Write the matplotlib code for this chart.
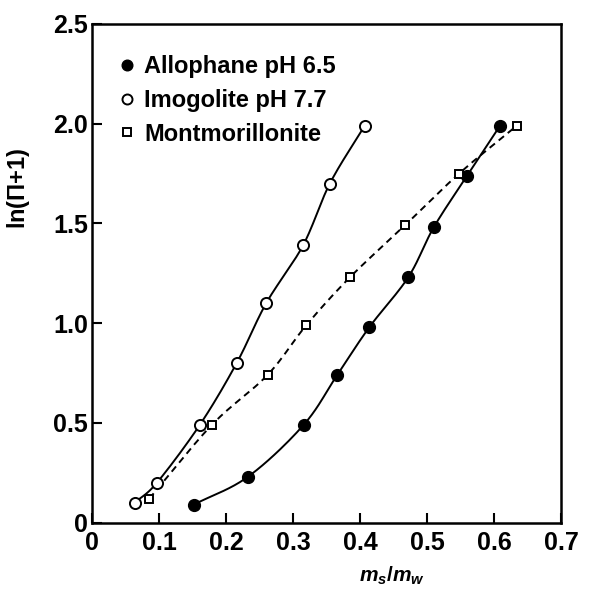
import numpy as np
import matplotlib
matplotlib.use("Agg")
import matplotlib.pyplot as plt

plt.rcParams['font.family'] = ['Liberation Sans', 'DejaVu Sans']
plt.rcParams['font.weight'] = 'bold'
plt.rcParams['mathtext.fontset'] = 'custom'
plt.rcParams['mathtext.it'] = 'Liberation Sans:italic:bold'
plt.rcParams['mathtext.rm'] = 'Liberation Sans:bold'
plt.rcParams['mathtext.bf'] = 'Liberation Sans:bold'

# ---- data ----
allophane_x = [0.152, 0.233, 0.316, 0.366, 0.414, 0.472, 0.510, 0.560, 0.609]
allophane_y = [0.09, 0.23, 0.49, 0.74, 0.98, 1.23, 1.48, 1.74, 1.99]

imogolite_x = [0.064, 0.097, 0.161, 0.216, 0.260, 0.315, 0.355, 0.407]
imogolite_y = [0.10, 0.20, 0.49, 0.80, 1.10, 1.39, 1.70, 1.99]

montmor_x = [0.0855, 0.179, 0.262, 0.320, 0.385, 0.467, 0.548, 0.634]
montmor_y = [0.12, 0.49, 0.74, 0.99, 1.23, 1.49, 1.75, 1.99]

labels = ['Allophane pH 6.5', 'Imogolite pH 7.7', 'Montmorillonite']
xticks = [0, 0.1, 0.2, 0.3, 0.4, 0.5, 0.6, 0.7]
xticklabels = ['0', '0.1', '0.2', '0.3', '0.4', '0.5', '0.6', '0.7']
yticks = [0, 0.5, 1.0, 1.5, 2.0, 2.5]
yticklabels = ['0', '0.5', '1.0', '1.5', '2.0', '2.5']


def smooth(x, y, n=20):
    """Catmull-Rom curve through the given points."""
    p = np.column_stack([x, y]).astype(float)
    p = np.vstack([2 * p[0] - p[1], p, 2 * p[-1] - p[-2]])
    out = []
    t = np.linspace(0, 1, n, endpoint=False)[:, None]
    for i in range(1, len(p) - 2):
        p0, p1, p2, p3 = p[i - 1], p[i], p[i + 1], p[i + 2]
        seg = 0.5 * ((2 * p1) + (-p0 + p2) * t + (2 * p0 - 5 * p1 + 4 * p2 - p3) * t ** 2
                     + (-p0 + 3 * p1 - 3 * p2 + p3) * t ** 3)
        out.append(seg)
    out.append(p[-2][None, :])
    out = np.vstack(out)
    return out[:, 0], out[:, 1]


fig = plt.figure(figsize=(5.89, 5.91), dpi=100)
ax = fig.add_axes([0.1562, 0.1159, 0.7963, 0.8435])

lw = 1.4
sx, sy = smooth(allophane_x, allophane_y)
ax.plot(sx, sy, color='black', lw=lw, zorder=2)
sx, sy = smooth(imogolite_x, imogolite_y)
ax.plot(sx, sy, color='black', lw=lw, zorder=2)
sx, sy = smooth(montmor_x, montmor_y)
ax.plot(sx, sy, color='black', lw=lw, dashes=(3.5, 2.5), zorder=2)

ax.plot(allophane_x, allophane_y, 'o', ms=8.5, mfc='black', mec='black', label=labels[0], zorder=3)
ax.plot(imogolite_x, imogolite_y, 'o', ms=8, mfc='white', mec='black', mew=1.4, label=labels[1], zorder=3)
ax.plot(montmor_x, montmor_y, 's', ms=6, mfc='white', mec='black', mew=1.4, label=labels[2], zorder=3)

ax.set_xlim(0, 0.7)
ax.set_ylim(0, 2.5)
ax.set_xticks(xticks)
ax.set_xticklabels(xticklabels)
ax.set_yticks(yticks)
ax.set_yticklabels(yticklabels)
ax.tick_params(direction='in', length=7, width=1.5, labelsize=18)
ax.tick_params(axis='x', pad=6)
ax.tick_params(axis='y', pad=3)
for s in ax.spines.values():
    s.set_linewidth(1.8)

ax.set_xlabel(r'$m_s/m_w$', fontsize=15)
ax.xaxis.set_label_coords(0.64, -0.085)
ax.set_ylabel(r'ln($\mathit{Π}$+1)', fontsize=17, fontweight='bold')
ax.yaxis.set_label_coords(-0.128, 0.67)

leg = ax.legend(loc='upper left', bbox_to_anchor=(0.058, 0.937), frameon=False,
                fontsize=17, handlelength=0.7, handletextpad=0.35, labelspacing=0.45,
                borderaxespad=0, borderpad=0, markerscale=0.9)

fig.savefig('out.png', dpi=100)
